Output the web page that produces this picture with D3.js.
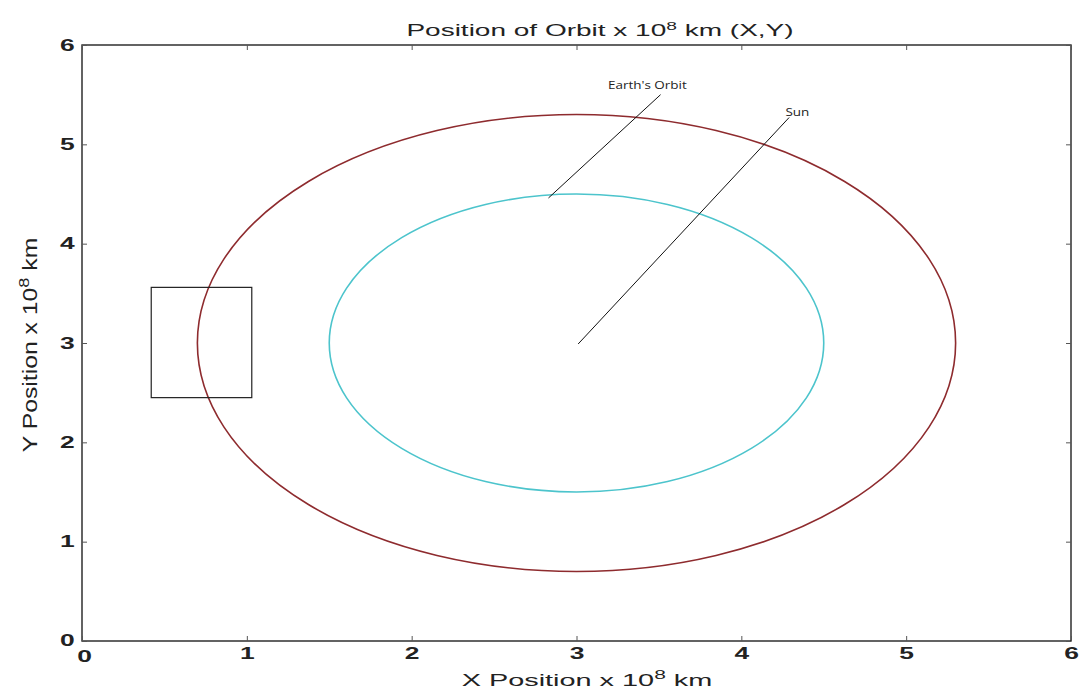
<!DOCTYPE html>
<html>
<head>
<meta charset="utf-8">
<script src="https://cdn.jsdelivr.net/npm/d3@7"></script>
<style>
  body { margin: 0; background: #fff; }
  text { font-family: "Liberation Sans", Arial, sans-serif; }
</style>
</head>
<body>
<div id="chart"></div>
<script>
// axis ticks
const xTicks = [0, 1, 2, 3, 4, 5, 6];
const yTicks = [0, 1, 2, 3, 4, 5, 6];

// orbits: centre and radius (x 10^8 km)
const orbitNames = ["Earth's Orbit", "Inner Orbit"];
const orbitCx = [3, 3];
const orbitCy = [3, 3];
const orbitR = [2.3, 1.5];
const orbitColors = ["#8e2b2e", "#4cc4cc"];

// annotation lines [x1, y1, x2, y2], label anchors [x, y] and labels
const noteLabels = ["Earth's Orbit", "Sun"];
const noteLines = [[2.83, 4.46, 3.51, 5.50], [3.01, 2.99, 4.29, 5.27]];
const noteAnchors = [[3.43, 5.56], [4.34, 5.29]];

// box around the left edge of the orbit [x0, y0, x1, y1]
const boxCorners = [0.42, 2.45, 1.03, 3.56];

const W = 1086, H = 697;
const margin = { top: 45, right: 15, bottom: 56, left: 82 };
const width = W - margin.left - margin.right;
const height = H - margin.top - margin.bottom;
const tickStretch = 1.65; // the reference's text is stretched sideways
const labelStretch = 1.75;

const svg = d3.select("#chart")
    .append("svg")
    .attr("width", W)
    .attr("height", H);

const g = svg.append("g")
    .attr("transform", `translate(${margin.left},${margin.top})`);

const x = d3.scaleLinear().domain([0, 6]).range([0, width]);
const y = d3.scaleLinear().domain([0, 6]).range([height, 0]);

// frame
g.append("rect")
    .attr("width", width)
    .attr("height", height)
    .attr("fill", "none")
    .attr("stroke", "#222")
    .attr("stroke-width", 1.4);

// ticks inside, on all four sides
const styleAxis = sel => {
    sel.select(".domain").remove();
    sel.selectAll(".tick line").attr("stroke", "#555");
    sel.selectAll(".tick text")
        .attr("fill", "#222")
        .style("font-size", "16px")
        .style("font-weight", "bold");
};

g.append("g")
    .attr("transform", `translate(0,${height})`)
    .call(d3.axisBottom(x).tickValues(xTicks).tickFormat(d3.format("d")).tickSizeInner(-5).tickSizeOuter(0).tickPadding(7))
    .call(styleAxis)
    .call(a => a.selectAll(".tick text").attr("transform", `scale(${tickStretch},1)`))
    .call(a => a.selectAll(".tick").filter(d => d === 0).select("text").attr("x", 1.2).attr("dy", "0.85em"));

g.append("g")
    .call(d3.axisTop(x).tickValues(xTicks).tickSizeInner(-5).tickSizeOuter(0).tickFormat(""))
    .call(styleAxis);

g.append("g")
    .call(d3.axisLeft(y).tickValues(yTicks).tickFormat(d3.format("d")).tickSizeInner(-5).tickSizeOuter(0).tickPadding(4.5))
    .call(styleAxis)
    .call(a => a.selectAll(".tick text").attr("transform", `scale(${tickStretch},1)`))
    .call(a => a.selectAll(".tick").filter(d => d === 0).select("text").attr("dy", "0.25em"));

g.append("g")
    .attr("transform", `translate(${width},0)`)
    .call(d3.axisRight(y).tickValues(yTicks).tickSizeInner(-5).tickSizeOuter(0).tickFormat(""))
    .call(styleAxis);

// orbits
g.selectAll("ellipse.orbit")
    .data(orbitNames.map((n, i) => ({ name: n, cx: orbitCx[i], cy: orbitCy[i], r: orbitR[i], color: orbitColors[i] })))
    .enter()
    .append("ellipse")
    .attr("class", "orbit")
    .attr("cx", d => x(d.cx))
    .attr("cy", d => y(d.cy))
    .attr("rx", d => x(d.cx + d.r) - x(d.cx))
    .attr("ry", d => y(d.cy - d.r) - y(d.cy))
    .attr("fill", "none")
    .attr("stroke", d => d.color)
    .attr("stroke-width", 1.6);

// box
g.append("rect")
    .attr("x", x(boxCorners[0]))
    .attr("y", y(boxCorners[3]))
    .attr("width", x(boxCorners[2]) - x(boxCorners[0]))
    .attr("height", y(boxCorners[1]) - y(boxCorners[3]))
    .attr("fill", "none")
    .attr("stroke", "#222")
    .attr("stroke-width", 1.2);

// annotations
g.selectAll("line.note")
    .data(noteLines)
    .enter()
    .append("line")
    .attr("class", "note")
    .attr("x1", d => x(d[0]))
    .attr("y1", d => y(d[1]))
    .attr("x2", d => x(d[2]))
    .attr("y2", d => y(d[3]))
    .attr("stroke", "#111")
    .attr("stroke-width", 1);

g.selectAll("text.note")
    .data(noteAnchors)
    .enter()
    .append("text")
    .attr("class", "note")
    .attr("transform", d => `translate(${x(d[0])},${y(d[1])}) scale(1.35,1)`)
    .attr("text-anchor", "middle")
    .attr("font-size", "10px")
    .attr("fill", "#222")
    .style("font-family", "'Open Sans', sans-serif")
    .text((d, i) => noteLabels[i]);

// title
const title = svg.append("text")
    .attr("transform", `translate(600,36) scale(${labelStretch},1)`)
    .attr("text-anchor", "middle")
    .style("font-size", "16px")
    .attr("fill", "#222");
title.append("tspan").text("Position of Orbit x 10");
title.append("tspan").attr("dy", -6).style("font-size", "11px").text("8");
title.append("tspan").attr("dy", 6).text(" km (X,Y)");

// x label
const xl = svg.append("text")
    .attr("transform", `translate(587,686) scale(${labelStretch},1)`)
    .attr("text-anchor", "middle")
    .style("font-size", "16.5px")
    .attr("fill", "#222");
xl.append("tspan").text("X Position x 10");
xl.append("tspan").attr("dy", -7).style("font-size", "12px").text("8");
xl.append("tspan").attr("dy", 7).text(" km");

// y label (rotated; glyphs look condensed across)
const yl = svg.append("text")
    .attr("transform", `translate(37,345) rotate(-90) scale(1.65,1.3)`)
    .attr("text-anchor", "middle")
    .style("font-size", "15px")
    .attr("fill", "#222");
yl.append("tspan").text("Y Position x 10");
yl.append("tspan").attr("dy", -6).style("font-size", "11px").text("8");
yl.append("tspan").attr("dy", 6).text(" km");
</script>
</body>
</html>
